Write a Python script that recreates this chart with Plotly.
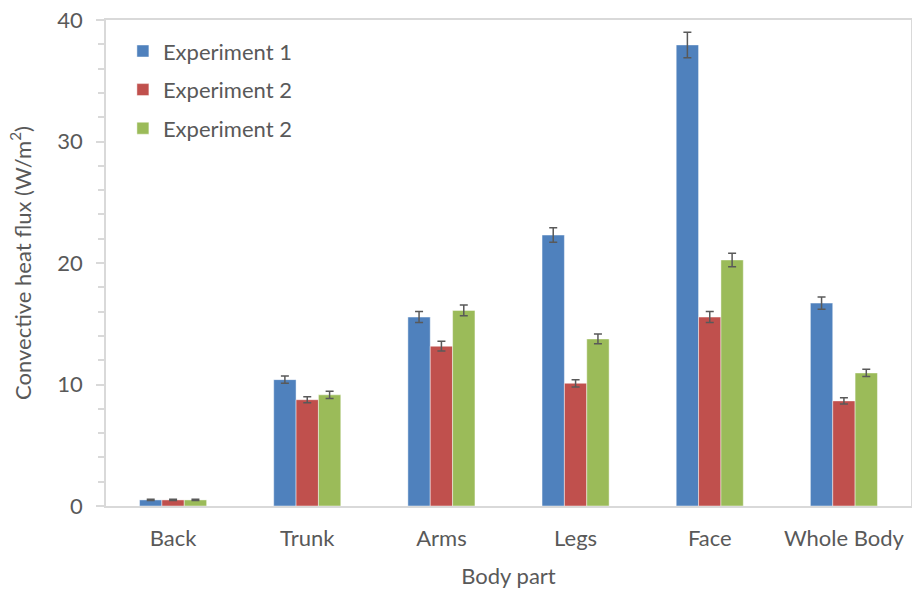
import plotly.graph_objects as go

categories = ["Back", "Trunk", "Arms", "Legs", "Face", "Whole Body"]
exp1 = [0.5, 10.4, 15.55, 22.3, 37.95, 16.7]
exp1_err = [0.05, 0.3, 0.45, 0.6, 1.05, 0.5]
exp2 = [0.5, 8.75, 13.15, 10.1, 15.55, 8.65]
exp2_err = [0.05, 0.25, 0.4, 0.3, 0.45, 0.25]
exp3 = [0.5, 9.15, 16.1, 13.75, 20.25, 10.95]
exp3_err = [0.05, 0.3, 0.45, 0.4, 0.55, 0.3]
names = ["Experiment 1", "Experiment 2", "Experiment 2"]
colors = ["#4F81BD", "#C0504D", "#9BBB59"]

FONT = "Lato"
TXT = "#595959"
FS = 22

fig = go.Figure()
for i, (vals, errs) in enumerate([(exp1, exp1_err), (exp2, exp2_err), (exp3, exp3_err)]):
    fig.add_trace(go.Bar(
        x=categories, y=vals, name=names[i], legendgroup=f"g{i}",
        marker=dict(color=colors[i], line=dict(color="rgba(255,255,255,0.45)", width=1)),
        error_y=dict(type="data", array=errs, visible=True, color="#595959", thickness=1.5, width=4),
    ))

fig.update_layout(
    width=912, height=592,
    margin=dict(l=106, r=1, t=20, b=86),
    paper_bgcolor="white", plot_bgcolor="white",
    barmode="group", bargap=0.5, bargroupgap=0,
    font=dict(family=FONT, color=TXT, size=FS),
    showlegend=True,
    legend=dict(x=0.021, y=0.979, xanchor="left", yanchor="top",
                font=dict(family=FONT, size=FS, color=TXT),
                bgcolor="rgba(0,0,0,0)", tracegroupgap=7, traceorder="grouped",
                itemwidth=30),
    xaxis=dict(
        title=dict(text="Body part", font=dict(size=FS, color=TXT), standoff=18),
        showline=True, linecolor="#D9D9D9", linewidth=1.5, mirror=True,
        ticks="", showgrid=False, tickfont=dict(size=FS, color=TXT),
        ticklabelstandoff=12, automargin=False, ticklabeloverflow="allow",
    ),
    yaxis=dict(
        title=dict(text="Convective heat flux (W/m<sup>2</sup>)", font=dict(size=FS, color=TXT), standoff=20),
        range=[0, 40], tickvals=[0, 10, 20, 30, 40],
        showline=True, linecolor="#D9D9D9", linewidth=1.5, mirror=True,
        ticks="outside", ticklen=8, tickcolor="#D9D9D9", tickwidth=1.5,
        minor=dict(ticks="outside", ticklen=6, tickcolor="#D9D9D9", tickwidth=1.5, dtick=2, showgrid=False),
        showgrid=False, zeroline=False, tickfont=dict(size=FS, color=TXT),
        ticklabelstandoff=9, automargin=False, ticklabeloverflow="allow",
    ),
)

# remove the default 8px page margin so the 912x592 figure fills the window
fig.write_html("out.html", config={"displayModeBar": False},
               post_script="document.body.style.margin='0';")
